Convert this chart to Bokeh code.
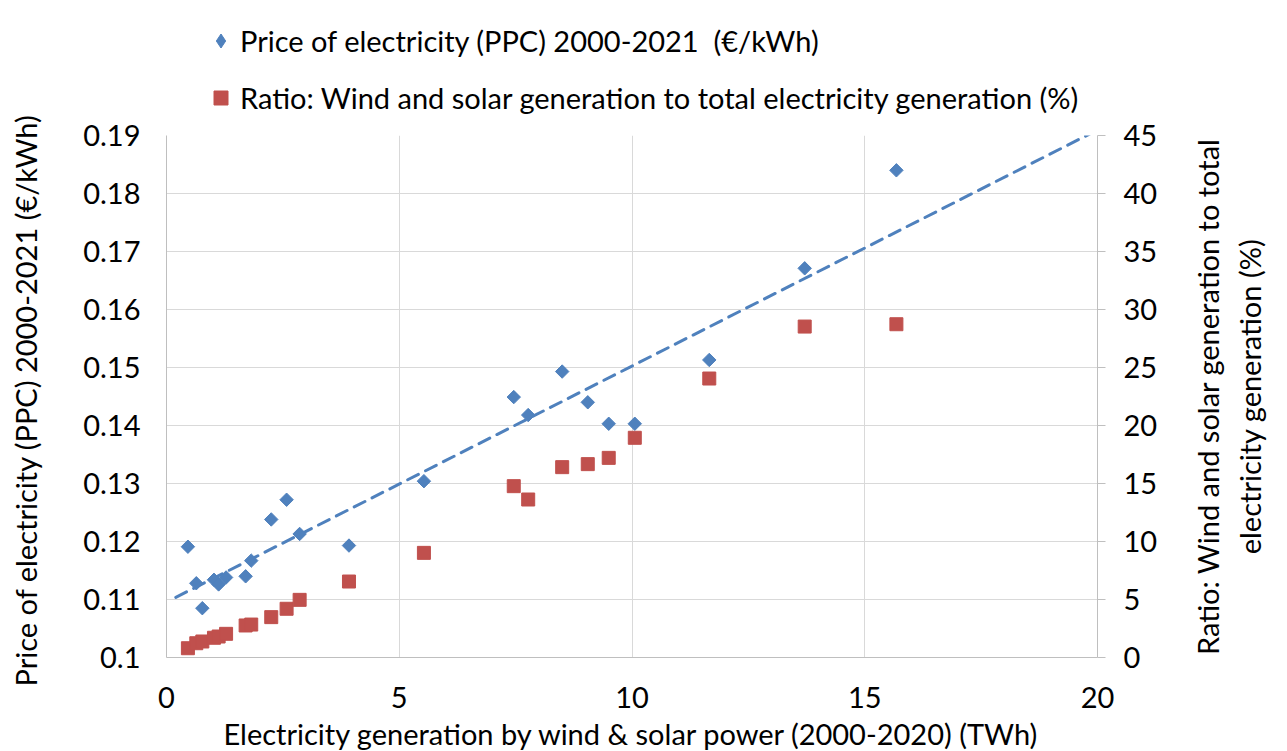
import numpy as np
from bokeh.plotting import figure
from bokeh.layouts import column, row
from bokeh.models import (Range1d, LinearAxis, FixedTicker, CustomJSTickFormatter,
                          Legend, LegendItem, ColumnDataSource)
from bokeh.embed import file_html
from bokeh.resources import INLINE

# ---- data ----
generation_twh = [0.46, 0.64, 0.77, 1.02, 1.12, 1.28, 1.70, 1.82, 2.25, 2.58, 2.86,
                  3.92, 5.53, 7.46, 7.77, 8.50, 9.05, 9.50, 10.06, 11.66, 13.71, 15.68]
price_eur_kwh = [0.1191, 0.1128, 0.1085, 0.1134, 0.1126, 0.1138, 0.1140, 0.1167, 0.1238,
                 0.1272, 0.1213, 0.1193, 0.1304, 0.1449, 0.1418, 0.1493, 0.1440, 0.1403,
                 0.1403, 0.1513, 0.1671, 0.1840]
ratio_pct = [0.80, 1.23, 1.38, 1.70, 1.81, 2.04, 2.76, 2.84, 3.48, 4.20, 4.97,
             6.55, 9.02, 14.77, 13.62, 16.41, 16.67, 17.21, 18.94, 24.05, 28.53, 28.73]

price_label = "Price of electricity (PPC) 2000-2021  (\u20ac/kWh)"
ratio_label = "Ratio: Wind and solar generation to total electricity generation (%)"
x_title = "Electricity generation by wind & solar power (2000-2020) (TWh)"
y_title = "Price of electricity (PPC) 2000-2021  (\u20ac/kWh)"
y2_title = "Ratio: Wind and solar generation to total\nelectricity generation (%)"

x_ticks = [0, 5, 10, 15, 20]
y_ticks = [round(0.10 + 0.01 * k, 2) for k in range(10)]
y2_ticks = list(range(0, 50, 5))
trend_span = [0.2, 20]

BLUE = "#4F81BD"
RED = "#C0504D"
GRID = "#D9D9D9"
AXIS = "#BFBFBF"
FONT = "Lato"
FS = "29px"

LEFT = 166       # frame left edge
FW, FH = 931, 522
P_RIGHT = 62     # room for the right tick labels
RF_LEFT, RF_RIGHT = 108, 16
TOP, BOTTOM = 20, 92

src = ColumnDataSource(dict(x=generation_twh, price=price_eur_kwh, ratio=ratio_pct))

# ---------------- legend strip (top) ----------------
lf = figure(frame_width=FW, height=115, x_range=Range1d(-1, 0), y_range=Range1d(0, 1),
            output_backend="svg", toolbar_location=None,
            x_axis_location=None, y_axis_location=None,
            min_border_left=LEFT, min_border_right=P_RIGHT,
            min_border_top=0, min_border_bottom=0)
lf.grid.visible = False
lf.outline_line_color = None
lf.background_fill_color = "white"
lf.border_fill_color = "white"
# legend symbols (the series points themselves fall outside this strip's view)
leg_price = lf.scatter("x", "price", source=src, marker="diamond", size=12,
                       fill_color=BLUE, line_color=BLUE)
leg_ratio = lf.scatter("x", "ratio", source=src, marker="square", size=13,
                       fill_color=RED, line_color=RED)
legend = Legend(items=[LegendItem(label=price_label, renderers=[leg_price]),
                       LegendItem(label=ratio_label, renderers=[leg_ratio])],
                location=(37, 0))
legend.border_line_color = None
legend.background_fill_alpha = 0
legend.padding = 0
legend.margin = 0
legend.spacing = 22
legend.glyph_width = 35
legend.glyph_height = 35
legend.label_height = 35
legend.label_standoff = 2
legend.label_text_font = FONT
legend.label_text_font_size = FS
legend.label_text_color = "black"
lf.add_layout(legend)

# ---------------- main chart ----------------
p = figure(frame_width=FW, frame_height=FH,
           x_range=Range1d(0, 20), y_range=Range1d(0.1, 0.19),
           output_backend="svg", toolbar_location=None,
           min_border_left=LEFT, min_border_right=P_RIGHT,
           min_border_top=TOP, min_border_bottom=BOTTOM)
p.outline_line_color = None
p.background_fill_color = "white"
p.border_fill_color = "white"

p.extra_y_ranges = {"ratio": Range1d(0, 45)}

for ax in [p.xaxis[0], p.yaxis[0]]:
    ax.major_tick_out = 0
    ax.major_tick_in = 0
    ax.minor_tick_out = 0
    ax.minor_tick_in = 0
    ax.axis_line_color = AXIS
    ax.major_label_text_font = FONT
    ax.major_label_text_font_size = FS
    ax.major_label_text_color = "black"
    ax.axis_label_text_font = FONT
    ax.axis_label_text_font_size = FS
    ax.axis_label_text_font_style = "normal"
    ax.axis_label_text_color = "black"

p.xaxis.ticker = FixedTicker(ticks=x_ticks)
p.xaxis.axis_label = x_title
p.xaxis.major_label_standoff = 29
p.xaxis.axis_label_standoff = 5

p.yaxis.ticker = FixedTicker(ticks=y_ticks)
p.yaxis.formatter = CustomJSTickFormatter(code="return (Math.round(tick*100)/100).toString();")
p.yaxis.axis_label = y_title
p.yaxis.major_label_standoff = 26
p.yaxis.axis_label_standoff = 37

right = LinearAxis(y_range_name="ratio", ticker=FixedTicker(ticks=y2_ticks))
right.major_tick_out = 8
right.major_tick_in = 0
right.minor_tick_out = 0
right.minor_tick_in = 0
right.axis_line_color = AXIS
right.major_tick_line_color = AXIS
right.major_label_standoff = 18
right.major_label_text_font = FONT
right.major_label_text_font_size = FS
right.major_label_text_color = "black"
p.add_layout(right, "right")

p.xgrid.ticker = FixedTicker(ticks=x_ticks)
p.xgrid.grid_line_color = GRID
p.ygrid.grid_line_color = GRID

# trend line from least squares fit of the price series
slope, intercept = np.polyfit(generation_twh, price_eur_kwh, 1)
trend_y = [slope * v + intercept for v in trend_span]
p.line(trend_span, trend_y, line_color=BLUE, line_width=3, line_dash="12 8",
       line_cap="round")

p.scatter("x", "price", source=src, marker="square", angle=np.pi / 4,
          size=9.5, fill_color=BLUE, line_color=BLUE)
p.scatter("x", "ratio", source=src, marker="square", size=13,
          fill_color=RED, line_color=RED, y_range_name="ratio")

# ---------------- right-hand title strip (reads bottom to top) ----------------
rf = figure(frame_width=1, frame_height=FH, x_range=Range1d(0, 1), y_range=Range1d(0, 45),
            output_backend="svg", toolbar_location=None,
            x_axis_location=None, y_axis_location="left",
            min_border_left=RF_LEFT, min_border_right=RF_RIGHT,
            min_border_top=TOP, min_border_bottom=BOTTOM)
rf.grid.visible = False
rf.outline_line_color = None
rf.background_fill_color = "white"
rf.border_fill_color = "white"
ra = rf.yaxis[0]
ra.ticker = FixedTicker(ticks=[])
ra.axis_line_color = None
ra.major_tick_out = 0
ra.major_tick_in = 0
ra.minor_tick_out = 0
ra.minor_tick_in = 0
ra.axis_label = y2_title
ra.axis_label_standoff = 2
ra.axis_label_text_font = FONT
ra.axis_label_text_font_size = FS
ra.axis_label_text_font_style = "normal"
ra.axis_label_text_color = "black"
ra.axis_label_text_align = "center"

layout = column(lf, row(p, rf, spacing=0), spacing=0)
open("out.html", "w").write(file_html(layout, INLINE))
